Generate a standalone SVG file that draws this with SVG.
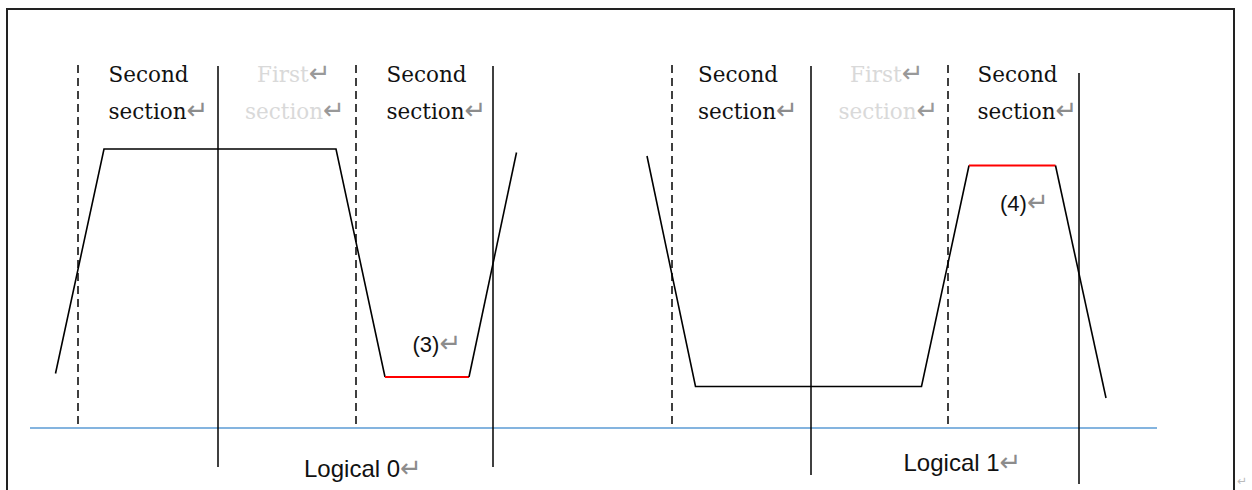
<svg xmlns="http://www.w3.org/2000/svg" width="1252" height="490" viewBox="0 0 1252 490">
  <style>
    .frame { fill: none; stroke: #222; stroke-width: 2; }
    .solid { stroke: #000; stroke-width: 1.5; fill: none; }
    .dash { stroke: #000; stroke-width: 1.5; stroke-dasharray: 8 5; fill: none; }
    .wave { stroke: #000; stroke-width: 1.6; fill: none; stroke-linejoin: miter; }
    .hl { stroke: #ff0000; stroke-width: 2; fill: none; }
    .base { stroke: #5b9bd5; stroke-width: 1.5; fill: none; }
    .ser { font-family: "DejaVu Serif", "Liberation Serif", serif; font-size: 21.5px; fill: #111; }
    .ser-g { font-family: "DejaVu Serif", "Liberation Serif", serif; font-size: 21.5px; fill: #d9d9d9; }
    .san { font-family: "Liberation Sans", Arial, sans-serif; font-size: 24px; fill: #111; }
    .num { font-family: "Liberation Sans", Arial, sans-serif; font-size: 22px; fill: #111; }
    .ret { font-family: "DejaVu Sans", sans-serif; font-size: 26px; fill: #8c8c8c; }
    .ret-g { font-family: "DejaVu Sans", sans-serif; font-size: 26px; fill: #999; }
    .ret-s { font-family: "DejaVu Sans", sans-serif; font-size: 12px; fill: #bbb; }
  </style>
  <rect width="1252" height="490" fill="#fff"/>
  <path class="frame" d="M7,495 V9 H1234 V495"/>

  <g id="connectors">
    <line class="base" x1="30" y1="428" x2="1157" y2="428"/>
    <line class="dash" x1="78" y1="65" x2="78" y2="428"/>
    <line class="solid" x1="218" y1="66" x2="218" y2="467"/>
    <line class="dash" x1="356" y1="65" x2="356" y2="428"/>
    <line class="solid" x1="493" y1="66" x2="493" y2="467"/>
    <line class="dash" x1="672" y1="65" x2="672" y2="428"/>
    <line class="solid" x1="811" y1="66" x2="811" y2="475"/>
    <line class="dash" x1="948" y1="65" x2="948" y2="428"/>
    <line class="solid" x1="1079" y1="73" x2="1079" y2="484"/>
  </g>

  <g id="wave0">
    <polyline class="wave" points="55.5,373.5 104,149 336,149 385,377"/>
    <line class="hl" x1="385" y1="377" x2="469" y2="377"/>
    <line class="wave" x1="469" y1="377" x2="516.5" y2="152.5"/>
  </g>
  <g id="wave1">
    <polyline class="wave" points="647,156 695.5,386.5 921.5,386.5 969,165.5"/>
    <line class="hl" x1="969" y1="165.5" x2="1055.5" y2="165.5"/>
    <line class="wave" x1="1055.5" y1="165.5" x2="1106" y2="398"/>
  </g>

  <g id="label-left-second-a">
    <text class="ser" x="108.5" y="82">Second</text>
    <text class="ser" x="108.5" y="118.5">section<tspan class="ret">↵</tspan></text>
  </g>
  <g id="label-left-first">
    <text class="ser-g" x="257" y="82">First<tspan class="ret-g">↵</tspan></text>
    <text class="ser-g" x="245" y="118.5">section<tspan class="ret-g">↵</tspan></text>
  </g>
  <g id="label-left-second-b">
    <text class="ser" x="386.5" y="82">Second</text>
    <text class="ser" x="386.5" y="118.5">section<tspan class="ret">↵</tspan></text>
  </g>
  <g id="label-right-second-a">
    <text class="ser" x="698" y="82">Second</text>
    <text class="ser" x="698" y="118.5">section<tspan class="ret">↵</tspan></text>
  </g>
  <g id="label-right-first">
    <text class="ser-g" x="850" y="82">First<tspan class="ret-g">↵</tspan></text>
    <text class="ser-g" x="838.5" y="118.5">section<tspan class="ret-g">↵</tspan></text>
  </g>
  <g id="label-right-second-b">
    <text class="ser" x="977.5" y="82">Second</text>
    <text class="ser" x="977.5" y="118.5">section<tspan class="ret">↵</tspan></text>
  </g>

  <g id="label-3"><text class="num" x="412.5" y="352">(3)<tspan class="ret">↵</tspan></text></g>
  <g id="label-4"><text class="num" x="1000" y="211">(4)<tspan class="ret">↵</tspan></text></g>
  <g id="label-logical0"><text class="san" x="304" y="477">Logical 0<tspan class="ret">↵</tspan></text></g>
  <g id="label-logical1"><text class="san" x="903.5" y="471">Logical 1<tspan class="ret">↵</tspan></text></g>
  <text class="ret-s" x="1237" y="485">↵</text>
</svg>
